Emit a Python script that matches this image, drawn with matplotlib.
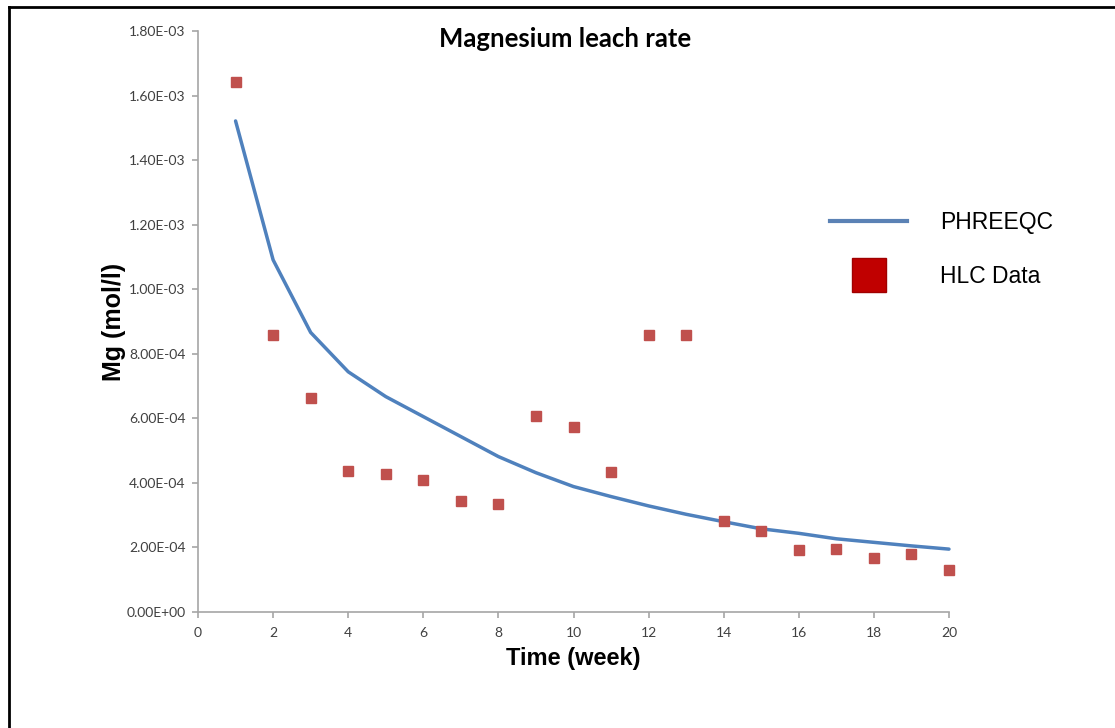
import numpy as np
import matplotlib
matplotlib.use('Agg')
import matplotlib.pyplot as plt
from matplotlib.lines import Line2D
from matplotlib.ticker import FuncFormatter

# data
weeks = np.arange(1, 21)
phreeqc = [1.522e-3, 1.091e-3, 0.866e-3, 0.744e-3, 0.667e-3, 0.605e-3, 0.543e-3,
           0.481e-3, 0.431e-3, 0.388e-3, 0.357e-3, 0.328e-3, 0.302e-3, 0.279e-3,
           0.257e-3, 0.243e-3, 0.226e-3, 0.215e-3, 0.204e-3, 0.194e-3]
hlc = [1.643e-3, 0.858e-3, 0.662e-3, 0.436e-3, 0.426e-3, 0.408e-3, 0.344e-3,
       0.335e-3, 0.607e-3, 0.574e-3, 0.433e-3, 0.858e-3, 0.858e-3, 0.282e-3,
       0.250e-3, 0.190e-3, 0.194e-3, 0.166e-3, 0.180e-3, 0.130e-3]
xticks = np.arange(0, 21, 2)
yticks = np.arange(0, 1.81e-3, 2e-4)

blue = '#4f81bd'
red = '#c0504d'
grey = '#a6a6a6'

fig = plt.figure(figsize=(11.15, 7.28), dpi=100)
ax = fig.add_axes([0.1776, 0.1598, 0.6735, 0.7972])

ax.plot(weeks, phreeqc, color=blue, lw=2.5, solid_capstyle='round', zorder=2,
        clip_on=False)
ax.plot(weeks, hlc, ls='none', marker='s', ms=7.5, color=red, mec=red, zorder=3,
        clip_on=False)

ax.set_xlim(0, 20)
ax.set_ylim(0, 1.8e-3)
ax.set_xticks(xticks)
ax.set_yticks(yticks)
ax.yaxis.set_major_formatter(FuncFormatter(lambda v, p: '{:.2E}'.format(v)))

for s in ['top', 'right']:
    ax.spines[s].set_visible(False)
for s in ['left', 'bottom']:
    ax.spines[s].set_color(grey)
    ax.spines[s].set_linewidth(1.2)
ax.tick_params(axis='both', direction='out', length=4, width=1.2, color=grey,
               labelsize=10, labelcolor='#404040', pad=5)
ax.tick_params(axis='x', pad=7)
for lab in ax.get_xticklabels() + ax.get_yticklabels():
    lab.set_fontfamily('Lato')

ax.set_xlabel('Time (week)', fontsize=17, fontweight='bold',
              family='Liberation Sans', labelpad=6)
ax.set_ylabel('Mg (mol/l)', fontsize=18, fontweight='bold',
              family='Liberation Sans', labelpad=0)
fig.text(0.507, 0.946, 'Magnesium leach rate', ha='center', va='center',
         fontsize=18.5, fontweight='bold', family='Lato')

handles = [Line2D([], [], color='#5b82b5', lw=3),
           Line2D([], [], ls='none', marker='s', ms=24, color='#c00000', mec='#a00000')]
ax.legend(handles, ['PHREEQC', 'HLC Data'], loc='upper left',
          bbox_to_anchor=(0.7262, 0.738), bbox_transform=fig.transFigure,
          frameon=False, prop={'family': 'Liberation Sans', 'size': 16.5},
          handlelength=3.35, handletextpad=1.45, labelspacing=1.35)

# outer frame (top and left edges visible in the reference)
fig.add_artist(Line2D([0.0081, 0.0081], [0.0, 0.9904], color='black', lw=2,
                      transform=fig.transFigure))
fig.add_artist(Line2D([0.0081, 1.0], [0.9904, 0.9904], color='black', lw=2,
                      transform=fig.transFigure))

fig.savefig('out.png', dpi=100)
